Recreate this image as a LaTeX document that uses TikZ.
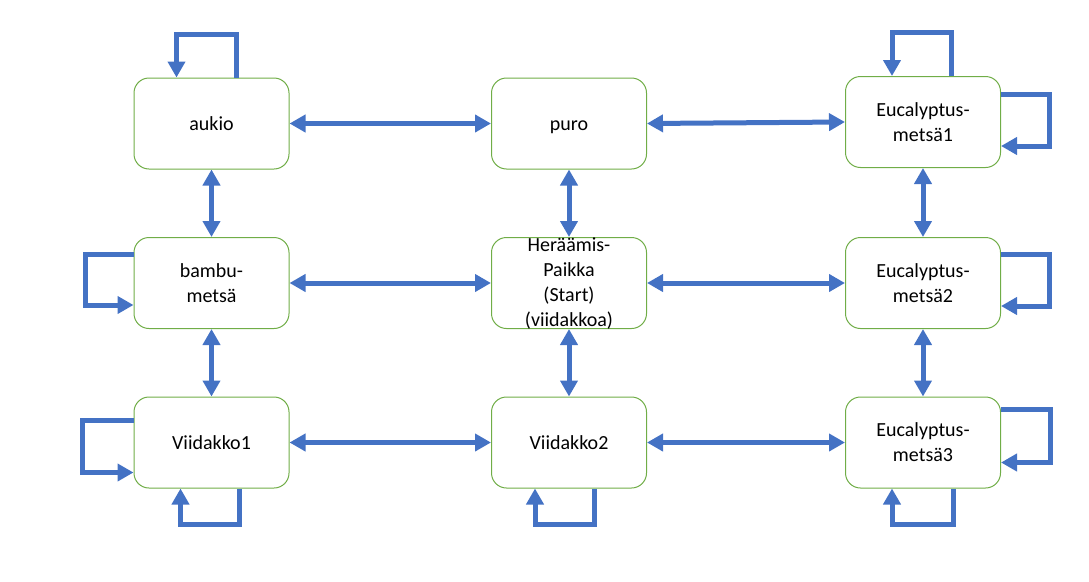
\documentclass[tikz,border=0pt]{standalone}
\usepackage{fontspec}
\setmainfont{Carlito}
\usetikzlibrary{arrows.meta,calc}

\definecolor{boxgreen}{RGB}{112,173,71}
\definecolor{arrowblue}{RGB}{68,114,196}

\begin{document}
\begin{tikzpicture}[
        x=1pt, y=-1pt,
        room/.style={
            draw=boxgreen,
            line width=1pt,
            rounded corners=15pt,
            minimum width=155pt,
            minimum height=91pt,
            inner sep=0pt,
            align=center,
            font=\fontsize{20}{25}\selectfont
        },
        link/.style={
            arrowblue,
            line width=5pt,
            {Triangle[width=17pt,length=16pt]}-{Triangle[width=17pt,length=16pt]}
        },
        self/.style={
            arrowblue,
            line width=5pt,
            -{Triangle[width=17pt,length=16pt]}
        }
    ]

    \useasboundingbox (0,0) rectangle (1089,581);


    % rooms
    \node[room] (aukio) at (211.5,123.5) {aukio};
    \node[room] (puro)  at (569,123.5)   {\vphantom{k}\raisebox{0pt}[\height][0pt]{puro}};
    \node[room] (euc1)  at (923,122)     {Eucalyptus-\\metsä1};

    \node[room] (bambu) at (211.5,283)   {bambu-\\metsä};
    \node[room] (start) at (569,283)     {\raisebox{-6pt}[0pt][0pt]{\begin{tabular}{@{}c@{}}Heräämis-\\Paikka\\(Start)\\(viidakkoa)\end{tabular}}};
    \node[room] (euc2)  at (923,283)     {Eucalyptus-\\metsä2};

    \node[room] (v1)    at (211.5,442.5) {Viidakko1};
    \node[room] (v2)    at (569,442.5)   {Viidakko2};
    \node[room] (euc3)  at (923,442.5)   {Eucalyptus-\\metsä3};


    % rows
    \draw[link] (aukio.east) -- (puro.west);
    \draw[link] (puro.east)  -- (euc1.west);
    \draw[link] (bambu.east) -- (start.west);
    \draw[link] (start.east) -- (euc2.west);
    \draw[link] (v1.east)    -- (v2.west);
    \draw[link] (v2.east)    -- (euc3.west);


    % columns
    \draw[link] (aukio.south) -- (bambu.north);
    \draw[link] (bambu.south) -- (v1.north);
    \draw[link] (puro.south)  -- (start.north);
    \draw[link] (start.south) -- (v2.north);
    \draw[link] (euc1.south)  -- (euc2.north);
    \draw[link] (euc2.south)  -- (euc3.north);


    % staying in the same room
    \draw[self] ([xshift=25pt]aukio.north) -- ++(0,-43) -| ([xshift=-35pt]aukio.north);
    \draw[self] ([xshift=28pt]euc1.north)  -- ++(0,-44) -| ([xshift=-31pt]euc1.north);
    \draw[self] ([yshift=28pt]euc1.east)   -- ++(48,0)  |- ([yshift=-24pt]euc1.east);
    \draw[self] ([yshift=29pt]bambu.west)  -- ++(-48,0) |- ([yshift=-22pt]bambu.west);
    \draw[self] ([yshift=29pt]euc2.east)   -- ++(48,0)  |- ([yshift=-23pt]euc2.east);
    \draw[self] ([yshift=22pt]v1.west)     -- ++(-51,0) |- ([yshift=-30pt]v1.west);
    \draw[self] ([xshift=28pt]v1.south)    -- ++(0,36)  -| ([xshift=-31pt]v1.south);
    \draw[self] ([xshift=25pt]v2.south)    -- ++(0,36)  -| ([xshift=-34pt]v2.south);
    \draw[self] ([yshift=33pt]euc3.east)   -- ++(49,0)  |- ([yshift=-20pt]euc3.east);
    \draw[self] ([xshift=30pt]euc3.south)  -- ++(0,36)  -| ([xshift=-31pt]euc3.south);

\end{tikzpicture}
\end{document}
